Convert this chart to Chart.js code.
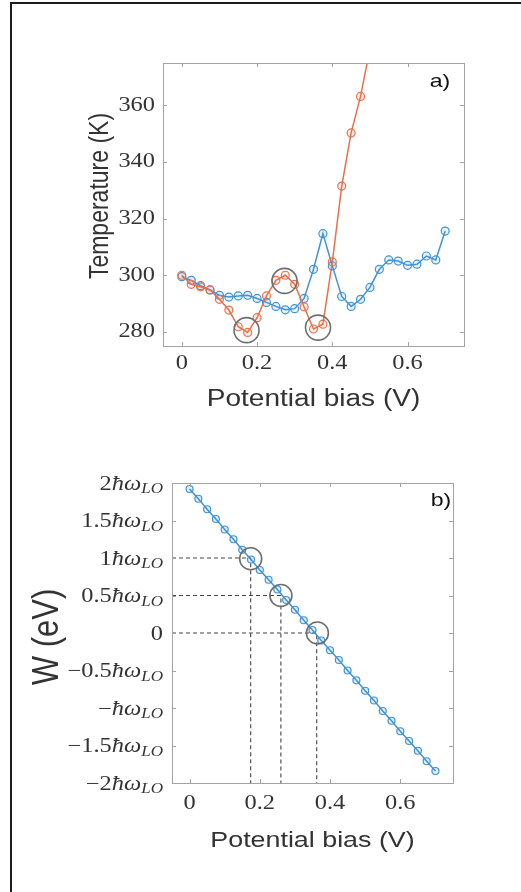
<!DOCTYPE html>
<html>
<head>
<meta charset="utf-8">
<script src="https://cdn.jsdelivr.net/npm/chart.js@4"></script>
<style>
  html, body { margin: 0; padding: 0; background: #fff; overflow: hidden; }
  #moldura {
    position: absolute; left: 10px; top: 2px; width: 600px; height: 1000px;
    border-left: 2px solid #1c1c1c; border-top: 2px solid #1c1c1c;
  }
  #grafico-a { position: absolute; left: 0; top: 0; }
  #grafico-b { position: absolute; left: 0; top: 446px; }
</style>
</head>
<body>
<div id="moldura"></div>
<canvas id="grafico-a" width="521" height="446"></canvas>
<canvas id="grafico-b" width="521" height="446"></canvas>
<script>
// painel a) temperatura x tensão
const tensaoLaranja = [0, 0.025, 0.05, 0.075, 0.1, 0.125, 0.15, 0.175, 0.2, 0.225, 0.25,
  0.275, 0.3, 0.325, 0.35, 0.375, 0.4, 0.425, 0.45, 0.475, 0.5]
const tempLaranja = [300, 296.8, 295.9, 294.8, 291.5, 287.7, 281.8, 279.8, 285, 292.7, 298.2,
  300, 296.8, 288.8, 281, 282.7, 304.7, 331.5, 350.3, 363.2, 380]
const tensaoAzul = [0, 0.025, 0.05, 0.075, 0.1, 0.125, 0.15, 0.175, 0.2, 0.225, 0.25, 0.275,
  0.3, 0.325, 0.35, 0.375, 0.4, 0.425, 0.45, 0.475, 0.5, 0.525, 0.55, 0.575, 0.6, 0.625,
  0.65, 0.675, 0.7]
const tempAzul = [299.5, 298.2, 296.3, 294.8, 292.9, 292.3, 292.7, 292.9, 291.8, 290.4, 289,
  287.8, 288.2, 291.8, 302.1, 314.7, 303.3, 292.5, 289, 291.5, 295.7, 302.1, 305.4, 305,
  303.5, 303.9, 306.8, 305.4, 315.6]
const circulosTensaoA = [0.172, 0.273, 0.362]
const circulosTempA = [280.6, 298, 281.5]
const ticksTensao = [0, 0.2, 0.4, 0.6]
const ticksTemp = [280, 300, 320, 340, 360]

// painel b) W x tensão (em unidades de ħω_LO)
const tensaoB = [0, 0.025, 0.05, 0.075, 0.1, 0.125, 0.15, 0.175, 0.2, 0.225, 0.25, 0.275,
  0.3, 0.325, 0.35, 0.375, 0.4, 0.425, 0.45, 0.475, 0.5, 0.525, 0.55, 0.575, 0.6, 0.625,
  0.65, 0.675, 0.7]
const energiaB = [1.92, 1.79, 1.65, 1.52, 1.38, 1.25, 1.11, 0.98, 0.84, 0.71, 0.58, 0.44,
  0.31, 0.17, 0.04, -0.10, -0.23, -0.36, -0.50, -0.63, -0.77, -0.90, -1.04, -1.17, -1.31,
  -1.44, -1.57, -1.71, -1.84]
const circulosTensaoB = [0.174, 0.26, 0.364]
const circulosEnergiaB = [0.99, 0.5, 0]
const guiasTensao = [0.174, 0.26, 0.362]
const guiasEnergia = [1, 0.5, 0]
const ticksEnergia = [-2, -1.5, -1, -0.5, 0, 0.5, 1, 1.5, 2]
const coefEnergia = ['−2', '−1.5', '−', '−0.5', '0', '0.5', '1', '1.5', '2']

const AZUL = '#3f93d6'
const LARANJA = '#e8704b'
const CINZA_CIRCULO = '#6e6e6e'
const ESTICA = 1.22
const COR_TEXTO = '#333'

const pares = (xs, ys) => xs.map((x, i) => ({ x, y: ys[i] }))

function texto(ctx, str, x, y, fonte, alinhar, rodar, cor) {
  ctx.save()
  ctx.translate(x, y)
  if (rodar) {
    ctx.rotate(-Math.PI / 2)
    ctx.scale(1, ESTICA)
  } else {
    ctx.scale(ESTICA, 1)
  }
  ctx.font = fonte
  ctx.fillStyle = cor || COR_TEXTO
  ctx.textAlign = alinhar
  ctx.textBaseline = 'middle'
  ctx.fillText(str, 0, 0)
  ctx.restore()
}

// rótulo tipo "1.5ħω_LO" alinhado à direita
function rotuloHbar(ctx, coef, xDir, y) {
  ctx.save()
  ctx.translate(xDir, y)
  ctx.scale(ESTICA, 1)
  ctx.fillStyle = COR_TEXTO
  ctx.textBaseline = 'alphabetic'
  const fNum = '20px "Liberation Serif"'
  const fSimb = 'italic 20px "Liberation Serif"'
  const fSub = 'italic 14px "Liberation Serif"'
  const base = 6.5
  if (coef === '0') {
    ctx.font = fNum
    ctx.textAlign = 'right'
    ctx.fillText('0', 0, base)
    ctx.restore()
    return
  }
  ctx.font = fSub
  const w3 = ctx.measureText('LO').width
  ctx.font = fSimb
  const w2 = ctx.measureText('ħω').width
  ctx.font = fNum
  const w1 = ctx.measureText(coef).width
  ctx.textAlign = 'left'
  ctx.fillText(coef, -(w1 + w2 + w3), base)
  ctx.font = fSimb
  ctx.fillText('ħω', -(w2 + w3), base)
  ctx.font = fSub
  ctx.fillText('LO', -w3, base + 3.5)
  ctx.restore()
}

// caixa estilo matlab, ticks para dentro e todos os textos dos eixos
const eixosMatlab = {
  id: 'eixos',
  afterDraw(chart, args, o) {
    const { ctx, chartArea: a, scales: { x, y } } = chart
    ctx.save()
    ctx.strokeStyle = '#a3a3a3'
    ctx.lineWidth = 1
    ctx.strokeRect(Math.round(a.left) + 0.5, Math.round(a.top) + 0.5,
      Math.round(a.right - a.left), Math.round(a.bottom - a.top))
    ctx.beginPath()
    o.ticksX.forEach(v => {
      const px = Math.round(x.getPixelForValue(v)) + 0.5
      ctx.moveTo(px, a.bottom); ctx.lineTo(px, a.bottom - 4)
      ctx.moveTo(px, a.top); ctx.lineTo(px, a.top + 4)
    })
    o.ticksY.forEach(v => {
      const py = Math.round(y.getPixelForValue(v)) + 0.5
      ctx.moveTo(a.left, py); ctx.lineTo(a.left + 4, py)
      ctx.moveTo(a.right, py); ctx.lineTo(a.right - 4, py)
    })
    ctx.stroke()
    ctx.restore()

    const fTick = '20px "Liberation Serif"'
    o.ticksX.forEach(v => {
      texto(ctx, String(v), x.getPixelForValue(v), a.bottom + o.gapX, fTick, 'center')
    })
    o.ticksY.forEach((v, i) => {
      const py = y.getPixelForValue(v)
      if (o.coefY) rotuloHbar(ctx, o.coefY[i], a.left - 9, py)
      else texto(ctx, String(v), a.left - 8, py, fTick, 'right')
    })
    texto(ctx, 'Potential bias (V)', (a.left + a.right) / 2, o.tituloX.y, o.tituloX.fonte, 'center')
    texto(ctx, o.tituloY.txt, o.tituloY.x, o.tituloY.y, o.tituloY.fonte, 'center', true)
    texto(ctx, o.letra, o.letraPos[0], o.letraPos[1], '19px "Liberation Sans"', 'center', false, '#111')
  }
}

function opcoesBase(larguraY, alturaX, pad, yMin, yMax, eixos) {
  return {
    responsive: false,
    animation: false,
    layout: { padding: pad },
    scales: {
      x: {
        type: 'linear', min: -0.05, max: 0.75,
        grid: { display: false }, border: { display: false },
        ticks: { display: false },
        afterFit: s => { s.height = alturaX }
      },
      y: {
        type: 'linear', min: yMin, max: yMax,
        grid: { display: false }, border: { display: false },
        ticks: { display: false },
        afterFit: s => { s.width = larguraY }
      }
    },
    plugins: { legend: { display: false }, tooltip: { enabled: false }, eixos }
  }
}

new Chart(document.getElementById('grafico-a'), {
  type: 'line',
  data: {
    datasets: [
      {
        data: pares(circulosTensaoA, circulosTempA),
        showLine: false, order: 0,
        pointRadius: 12.5, pointBorderWidth: 1.6,
        pointBorderColor: CINZA_CIRCULO, pointBackgroundColor: 'rgba(0,0,0,0)'
      },
      {
        data: pares(tensaoLaranja, tempLaranja),
        order: 1, borderColor: LARANJA, borderWidth: 1.5, tension: 0,
        pointRadius: 4, pointBorderWidth: 1.2,
        pointBorderColor: LARANJA, pointBackgroundColor: 'rgba(232,112,75,0.12)'
      },
      {
        data: pares(tensaoAzul, tempAzul),
        order: 2, borderColor: AZUL, borderWidth: 1.5, tension: 0,
        pointRadius: 4, pointBorderWidth: 1.2,
        pointBorderColor: AZUL, pointBackgroundColor: 'rgba(63,147,214,0.12)'
      }
    ]
  },
  options: opcoesBase(163, 100, { top: 63, right: 57, left: 0, bottom: 0 }, 275, 375, {
    ticksX: ticksTensao, ticksY: ticksTemp, gapX: 18,
    tituloX: { y: 400, fonte: '23px "Liberation Sans"' },
    tituloY: { txt: 'Temperature (K)', x: 100, y: 196, fonte: '23px "Liberation Sans"' },
    letra: 'a)', letraPos: [440, 82]
  }),
  plugins: [eixosMatlab]
})

const guias = guiasTensao.map((t, i) => ({
  data: [{ x: -0.05, y: guiasEnergia[i] }, { x: t, y: guiasEnergia[i] }, { x: t, y: -2 }],
  order: 3, borderColor: '#444', borderWidth: 1.1, borderDash: [4, 3],
  pointRadius: 0, tension: 0
}))

new Chart(document.getElementById('grafico-b'), {
  type: 'line',
  data: {
    datasets: [
      {
        data: pares(circulosTensaoB, circulosEnergiaB),
        showLine: false, order: 0,
        pointRadius: 11, pointBorderWidth: 1.6,
        pointBorderColor: CINZA_CIRCULO, pointBackgroundColor: 'rgba(0,0,0,0)'
      },
      {
        data: pares(tensaoB, energiaB),
        order: 1, borderColor: AZUL, borderWidth: 1.5, tension: 0,
        pointRadius: 3.5, pointBorderWidth: 1.2,
        pointBorderColor: AZUL, pointBackgroundColor: 'rgba(63,147,214,0.15)'
      },
      ...guias
    ]
  },
  options: opcoesBase(172, 109, { top: 37, right: 68, left: 0, bottom: 0 }, -2, 2, {
    ticksX: ticksTensao, ticksY: ticksEnergia, coefY: coefEnergia, gapX: 21,
    tituloX: { y: 395, fonte: '22px "Liberation Sans"' },
    tituloY: { txt: 'W (eV)', x: 48, y: 191, fonte: '31px "Liberation Sans"' },
    letra: 'b)', letraPos: [441, 55]
  }),
  plugins: [eixosMatlab]
})
</script>
</body>
</html>
